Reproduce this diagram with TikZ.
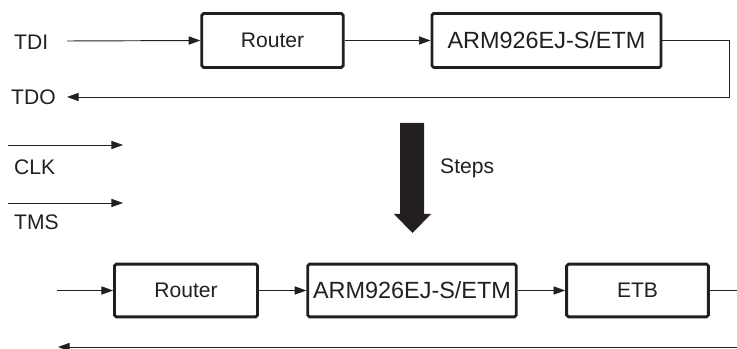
\documentclass[tikz,border=0pt]{standalone}
\usepackage{fontspec}
\setmainfont{Liberation Sans}
\usetikzlibrary{arrows.meta}
\definecolor{ink}{HTML}{231F20}
\begin{document}
\begin{tikzpicture}[x=0.03cm,y=-0.03cm,
  blk/.style={draw=ink,line width=2.4pt,rounded corners=1.5pt,inner sep=0pt,
    minimum height=46pt,text=ink,font=\fontsize{18}{20}\selectfont},
  armtxt/.style={font=\fontsize{20}{22}\selectfont},
  lbl/.style={inner sep=0pt,text=ink,font=\fontsize{18}{20}\selectfont},
  con/.style={draw=ink,line width=0.8pt,-{Triangle[length=10pt,width=7pt]}},
  wire/.style={draw=ink,line width=0.8pt}]
\useasboundingbox (0,0) rectangle (737,349);
% top row
\node[blk,minimum width=120.7pt] (r1) at (272.5,40.5) {Router};
\node[blk,armtxt,minimum width=195.6pt] (a1) at (546.5,40.5) {ARM926EJ-S/ETM};
\node[lbl,anchor=west] (tdi) at (14,42) {TDI};
\node[lbl,anchor=west] (tdo) at (11,97) {TDO};
\coordinate (tdiS) at (67,41);
\coordinate (tdoE) at (67,97);
\coordinate (c2) at (729,97);
\draw[con] (tdiS) -- (r1.west);
\draw[con] (r1.east) -- (a1.west);
\draw[con] (a1.east) -| (c2) -- (tdoE);
% control signals
\coordinate (clkS) at (8,145); \coordinate (clkE) at (123,145);
\coordinate (tmsS) at (8,203); \coordinate (tmsE) at (123,203);
\draw[con] (clkS) -- (clkE);
\draw[con] (tmsS) -- (tmsE);
\node[lbl,anchor=west] (clk) at (14,167) {CLK};
\node[lbl,anchor=west] (tms) at (14,222) {TMS};
% big arrow
\fill[ink] (400,123) -- (424,123) -- (424,214) -- (431,214) -- (412.5,233)
  -- (394,214) -- (400,214) -- cycle;
\node[lbl,anchor=west] (steps) at (440,168) {Steps};
% bottom row
\node[blk,minimum width=122pt,minimum height=45pt] (r2) at (186,290.5) {Router};
\node[blk,armtxt,minimum width=178pt,minimum height=45pt] (a2) at (412,290.5) {ARM926EJ-S/ETM};
\node[blk,minimum width=121pt,minimum height=45pt] (e2) at (637.5,290.5) {ETB};
\coordinate (inS) at (57,290.5);
\coordinate (outE) at (737,290.5);
\coordinate (rtS) at (737,347);
\coordinate (rtE) at (58,347);
\draw[con] (inS) -- (r2.west);
\draw[con] (r2.east) -- (a2.west);
\draw[con] (a2.east) -- (e2.west);
\draw[wire] (e2.east) -- (outE);
\draw[con] (rtS) -- (rtE);
\end{tikzpicture}
\end{document}
